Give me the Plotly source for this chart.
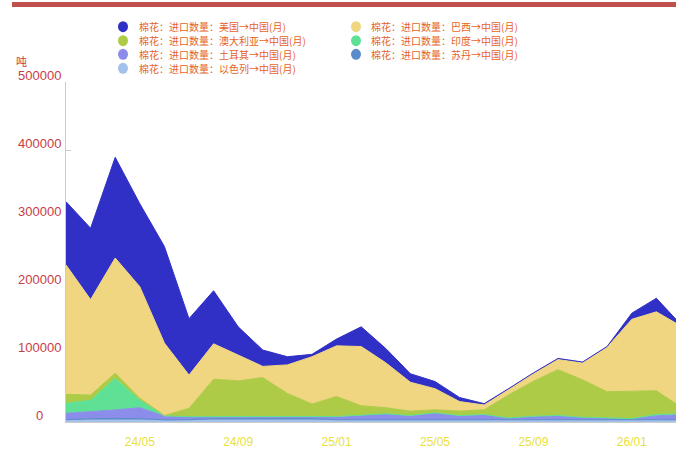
import plotly.graph_objects as go

# ---------------- data ----------------
months = ["24/02", "24/03", "24/04", "24/05", "24/06", "24/07", "24/08", "24/09",
          "24/10", "24/11", "24/12", "25/01", "25/02", "25/03", "25/04", "25/05",
          "25/06", "25/07", "25/08", "25/09", "25/10", "25/11", "25/12", "26/01",
          "26/02", "26/03"]
xtick_labels = ["24/05", "24/09", "25/01", "25/05", "25/09", "26/01"]
ytick_values = [0, 100000, 200000, 300000, 400000, 500000]
unit_label = "吨"

usa = [93000, 105000, 148000, 122000, 142000, 83000, 78000, 41500, 24000, 12000,
       3500, 10000, 29000, 21000, 12500, 10500, 6000, 2000, 1200, 1200,
       1500, 1200, 1200, 9000, 20000, 2000]
brazil = [190300, 140300, 169400, 164000, 106500, 49000, 52000, 38000, 16500, 42000,
          69500, 74500, 87000, 66000, 42500, 31000, 14000, 7000, 8000, 11000,
          15000, 25000, 65500, 106000, 116000, 119000]
australia = [13200, 7700, 7600, 3000, 500, 12200, 55200, 52500, 57500, 34000,
             18500, 29500, 14000, 9000, 6500, 4500, 6500, 7000, 34000, 51500,
             67500, 55000, 38500, 40000, 35000, 10000]
india = [14800, 17000, 46400, 11000, 500, 0, 0, 0, 0, 0,
         0, 0, 0, 0, 0, 0, 0, 0, 0, 0,
         0, 0, 0, 0, 2000, 1000]
turkey = [9400, 10000, 12600, 16000, 5500, 4500, 2800, 3000, 3000, 3000,
          3000, 4700, 6700, 8700, 6200, 10200, 6200, 7700, 2700, 5200,
          6200, 3700, 2700, 1700, 5700, 7700]
sudan = [300, 2000, 2000, 2000, 300, 300, 2000, 2000, 2000, 2000,
         2000, 300, 300, 300, 300, 300, 300, 300, 300, 300,
         300, 300, 300, 300, 300, 300]
israel = [3000, 3000, 3200, 3000, 2800, 3000, 3000, 3000, 2800, 3000,
          3000, 3000, 3000, 3000, 3000, 3000, 3000, 3000, 3000, 3000,
          3000, 3000, 3000, 3000, 3000, 3000]

names = {
    "usa": "棉花：进口数量：美国→中国(月)",
    "brazil": "棉花：进口数量：巴西→中国(月)",
    "australia": "棉花：进口数量：澳大利亚→中国(月)",
    "india": "棉花：进口数量：印度→中国(月)",
    "turkey": "棉花：进口数量：土耳其→中国(月)",
    "sudan": "棉花：进口数量：苏丹→中国(月)",
    "israel": "棉花：进口数量：以色列→中国(月)",
}
values = {"usa": usa, "brazil": brazil, "australia": australia, "india": india,
          "turkey": turkey, "sudan": sudan, "israel": israel}

# ---------------- style ----------------
colors = {
    "usa": "#3030C6",
    "brazil": "#F0D680",
    "australia": "#ADCB46",
    "india": "#5EE194",
    "turkey": "#8C8CEB",
    "sudan": "#5A8BCB",
    "israel": "#A3C1EA",
}
stack_order = ["israel", "sudan", "turkey", "india", "australia", "brazil", "usa"]
legend_order = ["usa", "brazil", "australia", "india", "turkey", "sudan", "israel"]

W, H = 676, 449
ML, MR, MT, MB = 66, 0, 82, 27
PW, PH = W - ML - MR, H - MT - MB


def px_x(px):
    return (px - ML) / PW


def px_y(py):
    return (H - MB - py) / PH


fig = go.Figure()
for key in stack_order:
    fig.add_trace(go.Scatter(
        x=months, y=values[key], name=names[key],
        mode="lines", stackgroup="one",
        line=dict(color=colors[key], width=1),
        fillcolor=colors[key], showlegend=False,
        hoverinfo="x+y+name",
    ))

red = "#C83C46"
num_font = "Liberation Sans, Arial, sans-serif"
cjk_font = "Noto Sans CJK SC, sans-serif"

annotations = []
shapes = []

# y tick labels (centered, as in reference)
for v in ytick_values:
    annotations.append(dict(
        x=px_x(39), xref="paper", y=v, yref="y", yshift=7,
        text=str(v), showarrow=False, xanchor="center", yanchor="middle",
        font=dict(family=num_font, size=13, color=red)))
annotations.append(dict(
    x=px_x(21), xref="paper", y=px_y(61), yref="paper",
    text=unit_label, showarrow=False, xanchor="center", yanchor="middle",
    font=dict(family=cjk_font, size=11, color=red)))

# custom legend (two columns)
col_marker = [123, 356]
col_text = [137, 369]
row_y = [26.7, 40.7, 54.3, 68.3]
for i, key in enumerate(legend_order):
    r, c = divmod(i, 2)
    shapes.append(dict(
        type="circle", xref="paper", yref="paper",
        xsizemode="pixel", ysizemode="pixel",
        xanchor=px_x(col_marker[c]), yanchor=px_y(row_y[r]),
        x0=-5, x1=5, y0=-5.5, y1=5.5,
        fillcolor=colors[key], line=dict(width=0)))
    annotations.append(dict(
        x=px_x(col_text[c]), xref="paper", y=px_y(row_y[r]), yref="paper",
        text=names[key], showarrow=False, xanchor="left", yanchor="middle",
        font=dict(family=cjk_font, size=10, color="#E6641E")))

# top red bar
shapes.append(dict(
    type="rect", xref="paper", yref="paper",
    x0=px_x(12), x1=1.0, y0=px_y(7), y1=px_y(2),
    fillcolor="#C0504D", line=dict(width=0), layer="above"))

fig.update_layout(
    width=W, height=H,
    margin=dict(l=ML, r=MR, t=MT, b=MB, pad=0),
    paper_bgcolor="white", plot_bgcolor="white",
    showlegend=False,
    annotations=annotations, shapes=shapes,
    xaxis=dict(
        type="category", categoryorder="array", categoryarray=months,
        range=[0, (676 - ML) / 24.6],
        tickmode="array", tickvals=xtick_labels, ticktext=xtick_labels,
        ticks="", showgrid=False, zeroline=False,
        showline=True, linecolor="#cccccc", linewidth=1,
        tickfont=dict(family=num_font, size=12, color="#E8DF3C"),
        ticklabelstandoff=9, layer="below traces",
    ),
    yaxis=dict(
        range=[0, 500000], tickmode="array", tickvals=ytick_values,
        showticklabels=False, ticks="inside", ticklen=5, tickcolor="#cccccc",
        showgrid=False, zeroline=False,
        showline=True, linecolor="#cccccc", linewidth=1,
        layer="below traces",
    ),
)

fig.write_html(
    "out.html",
    config={"displayModeBar": False},
    post_script="document.body.style.margin='0';document.body.style.overflow='hidden';",
)
